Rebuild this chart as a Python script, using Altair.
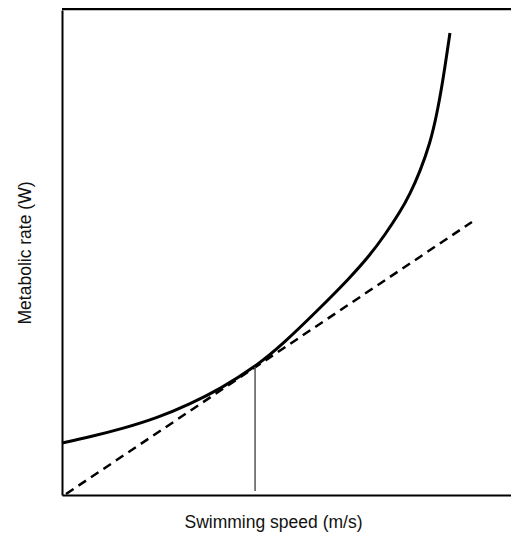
import altair as alt
import pandas as pd

# Metabolic rate curve (speed m/s, rate W)
curve_speed = [0.000, 0.062, 0.136, 0.212, 0.285, 0.352, 0.430, 0.492, 0.568, 0.641,
               0.686, 0.719, 0.753, 0.775, 0.797, 0.820, 0.835, 0.849, 0.864]
curve_rate = [1.072, 1.196, 1.371, 1.588, 1.876, 2.186, 2.639, 3.113, 3.794, 4.474,
              4.948, 5.361, 5.835, 6.206, 6.660, 7.258, 7.856, 8.577, 9.526]

# Tangent line from origin
tangent_speed = [0.009, 0.913]
tangent_rate = [0.021, 5.629]

# Optimal speed marker
opt_speed = [0.430]
opt_rate_top = [2.639]
opt_rate_bottom = [0.082]

W, H = 449, 485
FONT = "Liberation Sans"

curve_df = pd.DataFrame({"speed": curve_speed, "rate": curve_rate})
tan_df = pd.DataFrame({"speed": tangent_speed, "rate": tangent_rate})
opt_df = pd.DataFrame({"speed": opt_speed, "top": opt_rate_top, "bottom": opt_rate_bottom})

xscale = alt.Scale(domain=[0, 1.0], nice=False, zero=False)
yscale = alt.Scale(domain=[0, 10], nice=False, zero=False)

xaxis = alt.Axis(title="Swimming speed (m/s)", ticks=False, labels=False, grid=False,
                 domainColor="black", domainWidth=2, titlePadding=18, titleX=211,
                 titleFont=FONT, titleFontSize=17.5, titleFontWeight="normal", titleColor="#111")
yaxis = alt.Axis(title="Metabolic rate (W)", ticks=False, labels=False, grid=False,
                 domainColor="black", domainWidth=2, titlePadding=28,
                 titleFont=FONT, titleFontSize=17.5, titleFontWeight="normal", titleColor="#111")

curve = alt.Chart(curve_df).mark_line(color="black", strokeWidth=3, interpolate="basis").encode(
    x=alt.X("speed:Q", scale=xscale, axis=xaxis),
    y=alt.Y("rate:Q", scale=yscale, axis=yaxis),
)

tangent = alt.Chart(tan_df).mark_line(color="black", strokeWidth=2.5, strokeDash=[9, 6]).encode(
    x=alt.X("speed:Q", scale=xscale),
    y=alt.Y("rate:Q", scale=yscale),
)

vline = alt.Chart(opt_df).mark_rule(color="#555555", strokeWidth=1.5).encode(
    x=alt.X("speed:Q", scale=xscale),
    y=alt.Y("top:Q", scale=yscale),
    y2="bottom:Q",
)

top_line = alt.Chart(opt_df).mark_rule(color="black", strokeWidth=2.5).encode(
    x=alt.value(0), x2=alt.value(W), y=alt.value(-1)
)

chart = alt.layer(curve, tangent, vline, top_line).properties(
    width=W, height=H,
    autosize=alt.AutoSizeParams(type="none"),
    padding={"left": 54, "top": 2, "right": 0, "bottom": 40},
).configure_view(stroke=None)

chart.save("out.html", embed_options={"renderer": "svg", "actions": False})
